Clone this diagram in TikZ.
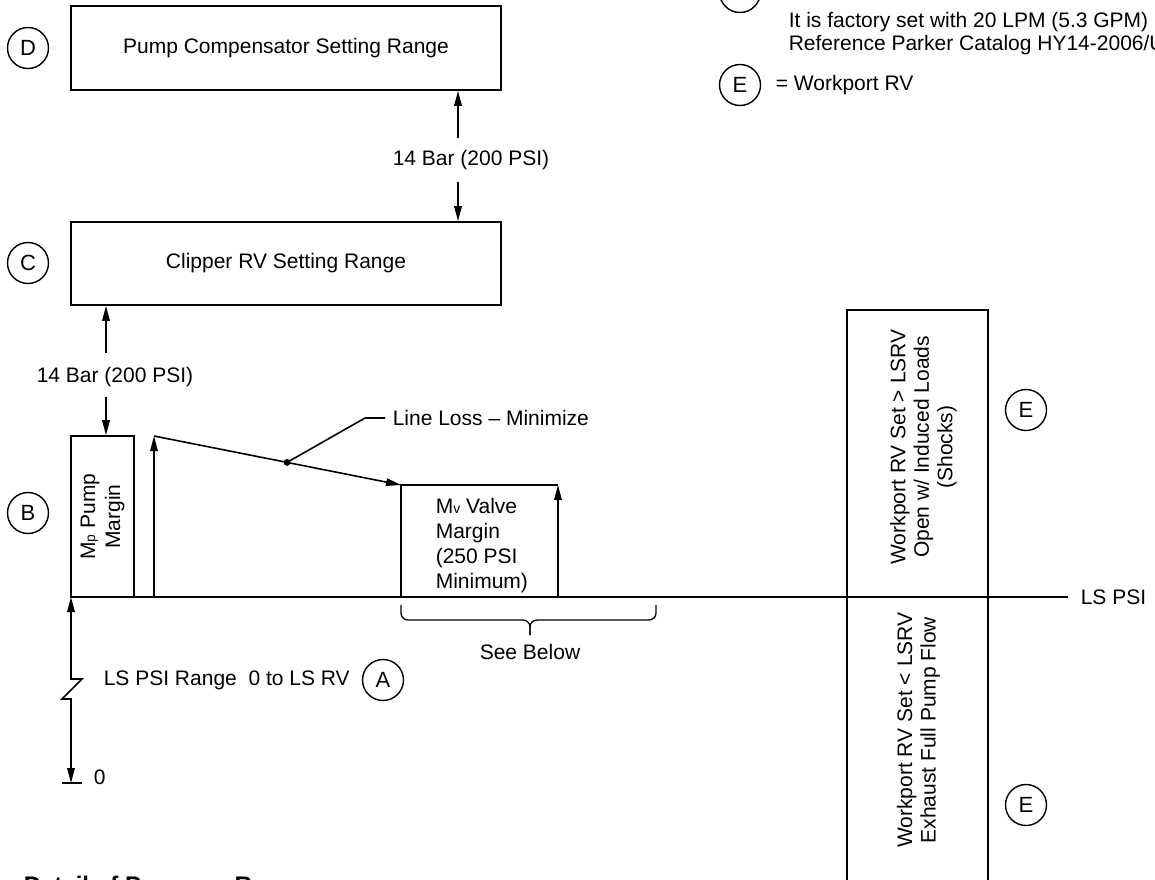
\documentclass[tikz,border=0pt]{standalone}
\usepackage{fontspec}
\setmainfont{Liberation Sans}
\usetikzlibrary{arrows.meta}
\begin{document}
\begin{tikzpicture}[x=1pt,y=-1pt, line width=1.6pt,
  arr/.style={-{Triangle[length=15pt,width=7.5pt]}},
  arrboth/.style={{Triangle[length=15pt,width=7.5pt]}-{Triangle[length=15pt,width=7.5pt]}},
  box/.style={draw, rectangle, inner sep=0pt, font=\fontsize{21}{25}\selectfont},
  lbl/.style={font=\fontsize{21}{25}\selectfont, inner sep=0pt},
  tag/.style={draw, circle, minimum size=41pt, inner sep=0pt, font=\fontsize{22}{24}\selectfont, line width=1.4pt}]
\useasboundingbox (0,0) rectangle (1155,879);
\clip (0,0) rectangle (1155,879);

% legend (top right, partly cut)
\node[tag] (tF) at (740,-8) {};
\node[lbl, anchor=base west] (leg1) at (788,27) {It is factory set with 20 LPM (5.3 GPM)};
\node[lbl, anchor=base west] (leg2) at (788,50) {Reference Parker Catalog HY14-2006/US};
\node[tag] (tEleg) at (740,85) {E};
\node[lbl, anchor=west] (legE) at (775,85) {= Workport RV};

% D box
\node[box, minimum width=430pt, minimum height=84pt] (D) at (286,48) {Pump Compensator Setting Range};
\node[tag] (tD) at (28,48) {D};

% C box
\node[box, minimum width=430pt, minimum height=83pt] (C) at (286,263.5) {Clipper RV Setting Range};
\node[tag] (tC) at (28,263) {C};

% D-C dimension
\coordinate (m1) at (458,138);
\coordinate (m2) at (458,182);
\draw[arr] (m1) -- (m1 |- D.south);
\draw[arr] (m2) -- (m2 |- C.north);
\node[lbl] (dc) at (471,160) {14 Bar (200 PSI)};

% B box
\node[box, minimum width=63pt, minimum height=161pt] (B) at (102.5,516.5) {};
\node[lbl, rotate=90, align=center] (Btxt) at (B.center) {M{\fontsize{14}{14}\selectfont p} Pump\\Margin};
\node[tag] (tB) at (28,513) {B};

% C-B dimension
\coordinate (m3) at (106,353);
\coordinate (m4) at (106,397);
\draw[arr] (m3) -- (m3 |- C.south);
\draw[arr] (m4) -- (m4 |- B.north);
\node[lbl] (cb) at (115,377) {14 Bar (200 PSI)};

% base line
\coordinate (o) at (71,597);
\coordinate (lsend) at (1068,597);
\draw (o) -- (lsend);
\node[lbl, anchor=west] (lspsi) at (1080,597) {LS PSI};

% line loss
\coordinate (u0) at (154,597);
\coordinate (u1) at (154,436);
\coordinate (v0) at (401,597);
\coordinate (v1) at (401,485);
\coordinate (v2) at (558,485);
\coordinate (v3) at (558,597);
\draw[arr] (u0) -- (u1);
\draw[arr] (u1) -- (v1);
\coordinate (dot) at (287,462.4);
\fill (dot) circle (3.4pt);
\coordinate (ld1) at (365,418);
\coordinate (ld2) at (385,418);
\draw (dot) -- (ld1) -- (ld2);
\node[lbl, anchor=west] (ll) at (392,418) {Line Loss -- Minimize};

% valve margin
\draw (v0) -- (v1) -- (v2);
\draw[arr] (v3) -- (v2);
\node[lbl, align=left, anchor=north west] (vm) at (435,497) {M{\fontsize{14}{14}\selectfont v} Valve\\Margin\\(250 PSI\\Minimum)};

% brace
\coordinate (br1) at (401,605);
\coordinate (br2) at (656,605);
\coordinate (brm) at (530,635);
\draw[line width=1.3pt, rounded corners=7pt] (br1) -- (401,620) -- (530,620) -- (brm);
\draw[line width=1.3pt, rounded corners=7pt] (br2) -- (656,620) -- (530,620) -- (brm);
\node[lbl] (see) at (530,652) {See Below};

% LS PSI range
\coordinate (z0) at (71,783);
\draw[arrboth] (o) -- (71,679) -- (82,679) -- (62,699) -- (71,699) -- (z0);
\coordinate (g1) at (62,783);
\coordinate (g2) at (82,783);
\draw (g1) -- (g2);
\node[lbl, anchor=west] (zero) at (93,777) {0};
\node[lbl, anchor=west] (rng) at (103,680) {LS PSI Range\ \ 0 to LS RV};
\node[tag] (tA) at (383,680) {A};

% workport boxes
\node[box, minimum width=141pt, minimum height=287pt] (W1) at (917.5,453.5) {};
\node[lbl, rotate=90, align=center, font=\fontsize{21}{23.5}\selectfont] (W1t) at (923.5,447) {Workport RV Set > LSRV\\Open w/ Induced Loads\\(Shocks)};
\node[tag] (tE1) at (1026,410) {E};
\node[box, minimum width=141pt, minimum height=330pt] (W2) at (917.5,762) {};
\node[lbl, rotate=90, align=center, font=\fontsize{21}{23.5}\selectfont] (W2t) at (918.5,730) {Workport RV Set < LSRV\\Exhaust Full Pump Flow};
\node[tag] (tE2) at (1026,805) {E};

% title (cut at bottom)
\node[anchor=base west, inner sep=0pt, font=\fontsize{24}{28}\selectfont\bfseries] (title) at (23,893) {Detail of Pressure Range};
\end{tikzpicture}
\end{document}
